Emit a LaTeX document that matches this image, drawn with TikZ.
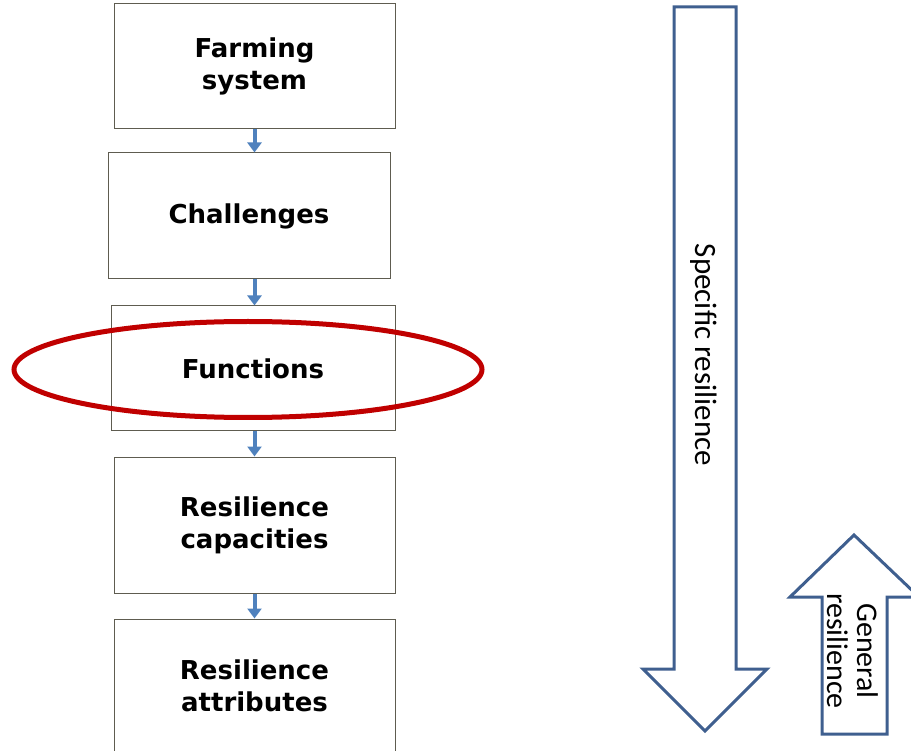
\documentclass[tikz,border=0pt]{standalone}
\usepackage{fontspec}
\setmainfont{DejaVu Sans}
\newfontfamily\calibri{Carlito}
\usetikzlibrary{arrows.meta, positioning}
\usepackage{xcolor}

\definecolor{boxgray}{HTML}{5E5C50}
\definecolor{flowblue}{HTML}{4F81BD}
\definecolor{bigblue}{HTML}{3F5F8F}
\definecolor{ringred}{HTML}{C00000}

\begin{document}
\begin{tikzpicture}[x=1pt, y=-1pt, every node/.style={font=\fontsize{26}{32}\selectfont\bfseries}]
		\useasboundingbox (0,0) rectangle (911,751);
		\tikzset{
			stepbox/.style={draw=boxgray, fill=white, line width=1pt, shape=rectangle, align=center, inner sep=0pt},
			flow/.style={flowblue, line width=4pt, -{Triangle[width=14pt, length=10pt]}},
			bigarrow/.style={draw=bigblue, fill=white, line width=3pt, line join=miter},
			arrowtext/.style={font=\calibri\fontsize{31}{30}\selectfont, rotate=-90, align=center}
		}
		
		% left column
		\node[stepbox, minimum width=281pt, minimum height=125pt] (farm) at (254.5,66.5) {Farming\\system};
		\node[stepbox, minimum width=282pt, minimum height=126pt] (chal) at (249,216) {Challenges};
		\node[stepbox, minimum width=284pt, minimum height=125pt] (func) at (253,368.5) {Functions};
		\node[stepbox, minimum width=281pt, minimum height=136pt] (cap) at (254.5,525) {Resilience\\capacities};
		\node[stepbox, minimum width=281pt, minimum height=134pt] (attr) at (254.5,686) {Resilience\\attributes};
		
		\draw[flow] (farm.south) -- (farm.south |- chal.north);
		\draw[flow] (chal.south -| farm.south) -- (func.north -| farm.south);
		\draw[flow] (func.south -| farm.south) -- (cap.north -| farm.south);
		\draw[flow] (cap.south -| farm.south) -- (attr.north -| farm.south);
		
		\draw[ringred, line width=5pt] (248,369.5) ellipse [x radius=234pt, y radius=48pt];
		
		% right side
		\draw[bigarrow] (674,7) -- (736,7) -- (736,669) -- (767,669) -- (705,731) -- (643,669) -- (674,669) -- cycle;
		\node[arrowtext] (spec) at (704,355) {Specific resilience};
		
		\draw[bigarrow] (822,734) -- (887,734) -- (887,597) -- (919,597) -- (854,535) -- (790,597) -- (822,597) -- cycle;
		\node[arrowtext, font=\calibri\fontsize{30}{30}\selectfont] (gen) at (853,651) {General\\resilience};
	\end{tikzpicture}
\end{document}
